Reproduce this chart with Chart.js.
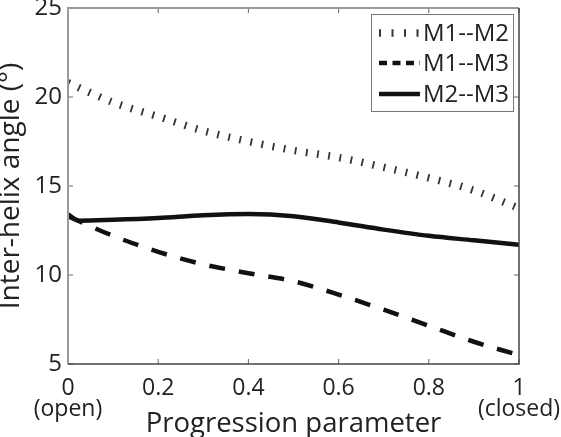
<!DOCTYPE html>
<html>
<head>
<meta charset="utf-8">
<script src="https://cdn.jsdelivr.net/npm/chart.js@4/dist/chart.umd.min.js"></script>
<style>
  html, body { margin: 0; padding: 0; background: #fff; }
  #c { display: block; }
</style>
</head>
<body>
<canvas id="c" width="561" height="437"></canvas>
<script>
// ---- data ----
const xValues = [0, 0.1, 0.2, 0.3, 0.4, 0.5, 0.6, 0.7, 0.8, 0.9, 1.0];
const m1m2 = [20.8, 19.7, 18.9, 18.1, 17.5, 17.0, 16.6, 16.05, 15.45, 14.75, 13.75];
const m1m3 = [13.3, 12.2, 11.3, 10.6, 10.1, 9.65, 8.9, 8.05, 7.15, 6.25, 5.5];
const m2m3X = [0, 0.025, 0.1, 0.2, 0.3, 0.4, 0.5, 0.6, 0.7, 0.8, 0.9, 1.0];
const m2m3 = [13.4, 13.05, 13.1, 13.2, 13.35, 13.42, 13.3, 12.95, 12.55, 12.2, 11.95, 11.7];
const seriesNames = ['M1--M2', 'M1--M3', 'M2--M3'];
const xTickValues = [0, 0.2, 0.4, 0.6, 0.8, 1];
const xTickLabels = [['0', '(open)'], '0.2', '0.4', '0.6', '0.8', ['1', '(closed)']];
const yTickValues = [5, 10, 15, 20, 25];
const xTitle = 'Progression parameter';
const yTitle = 'Inter-helix angle (\u00B0)';

const FONT = '"Open Sans", "Noto Sans", sans-serif';

const toPts = (xs, ys) => xs.map((x, i) => ({ x: x, y: ys[i] }));

const styles = [
  { color: '#333', width: 7.5, dash: [1.8, 9.5], legendDash: [2, 10.5] },
  { color: '#111', width: 4.5, dash: [16, 14], legendDash: [8, 5.5] },
  { color: '#111', width: 4.5, dash: [], legendDash: [] }
];

const frame = {
  id: 'frame',
  afterDatasetsDraw(chart) {
    const { ctx, chartArea: a, scales } = chart;
    ctx.save();
    ctx.strokeStyle = '#666';
    ctx.lineWidth = 1;
    const tl = 5;
    xTickValues.forEach(v => {
      const px = scales.x.getPixelForValue(v);
      ctx.beginPath();
      ctx.moveTo(px, a.bottom); ctx.lineTo(px, a.bottom - tl);
      ctx.moveTo(px, a.top); ctx.lineTo(px, a.top + tl);
      ctx.stroke();
    });
    yTickValues.forEach(v => {
      const py = scales.y.getPixelForValue(v);
      ctx.beginPath();
      ctx.moveTo(a.left, py); ctx.lineTo(a.left + tl, py);
      ctx.moveTo(a.right, py); ctx.lineTo(a.right - tl, py);
      ctx.stroke();
    });
    ctx.lineWidth = 2;
    ctx.strokeStyle = '#9a9a9a';
    ctx.beginPath();
    ctx.moveTo(a.left, a.bottom); ctx.lineTo(a.left, a.top); ctx.lineTo(a.right, a.top);
    ctx.stroke();
    ctx.lineWidth = 1.5;
    ctx.strokeStyle = '#444';
    ctx.beginPath();
    ctx.moveTo(a.left, a.bottom); ctx.lineTo(a.right, a.bottom); ctx.lineTo(a.right, a.top);
    ctx.stroke();
    ctx.restore();
  },
  afterDraw(chart) {
    const { ctx } = chart;
    const bx = 371, by = 14, bw = 142, bh = 97;
    ctx.save();
    ctx.fillStyle = '#fff';
    ctx.fillRect(bx, by, bw, bh);
    ctx.strokeStyle = '#777';
    ctx.lineWidth = 1;
    ctx.strokeRect(bx + 0.5, by + 0.5, bw, bh);
    const rows = [33, 63, 94];
    seriesNames.forEach((name, i) => {
      const s = styles[i];
      ctx.beginPath();
      ctx.setLineDash(s.legendDash);
      ctx.lineWidth = s.width;
      ctx.strokeStyle = s.color;
      ctx.moveTo(379, rows[i]);
      ctx.lineTo(420, rows[i]);
      ctx.stroke();
      ctx.setLineDash([]);
      ctx.fillStyle = '#222';
      ctx.font = '24px ' + FONT;
      ctx.textBaseline = 'middle';
      ctx.textAlign = 'left';
      ctx.fillText(name, 423, rows[i] + 1);
    });
    ctx.restore();
  }
};

new Chart(document.getElementById('c'), {
  type: 'line',
  data: {
    datasets: [
      { label: seriesNames[0], data: toPts(xValues, m1m2) },
      { label: seriesNames[1], data: toPts(xValues, m1m3) },
      { label: seriesNames[2], data: toPts(m2m3X, m2m3) }
    ].map((d, i) => Object.assign(d, {
      borderColor: styles[i].color,
      borderWidth: styles[i].width,
      borderDash: styles[i].dash,
      borderCapStyle: 'butt',
      pointRadius: 0,
      fill: false,
      cubicInterpolationMode: 'monotone'
    }))
  },
  options: {
    responsive: false,
    animation: false,
    devicePixelRatio: 1,
    layout: { padding: { top: 8, right: 42, left: 0, bottom: 0 } },
    plugins: { legend: { display: false }, tooltip: { enabled: false } },
    scales: {
      x: {
        type: 'linear', min: 0, max: 1,
        afterBuildTicks: s => { s.ticks = xTickValues.map(v => ({ value: v })); },
        afterFit: s => { s.height = 73; s.paddingLeft = 0; s.paddingRight = 0; },
        grid: { display: false, drawTicks: false },
        border: { display: false },
        ticks: {
          padding: 14,
          color: '#222',
          maxRotation: 0,
          autoSkip: false,
          font: { family: FONT, size: 23, lineHeight: 0.9 },
          callback: (v) => { const i = xTickValues.indexOf(v); return i >= 0 ? xTickLabels[i] : ''; }
        },
        title: {
          display: true, text: xTitle, color: '#222',
          font: { family: FONT, size: 27.5, lineHeight: 0.5 },
          padding: { top: 0, bottom: 6 }
        }
      },
      y: {
        type: 'linear', min: 5, max: 25,
        afterBuildTicks: s => { s.ticks = yTickValues.map(v => ({ value: v })); },
        afterFit: s => { s.width = 68; s.paddingTop = 0; s.paddingBottom = 0; },
        grid: { display: false, drawTicks: false },
        border: { display: false },
        ticks: {
          padding: 6,
          color: '#222',
          font: { family: FONT, size: 24, lineHeight: 0.6 }
        },
        title: {
          display: true, text: yTitle, color: '#222',
          font: { family: FONT, size: 28, lineHeight: 0.8 },
          padding: { top: 0, bottom: 0 }
        }
      }
    }
  },
  plugins: [frame]
});
</script>
</body>
</html>
